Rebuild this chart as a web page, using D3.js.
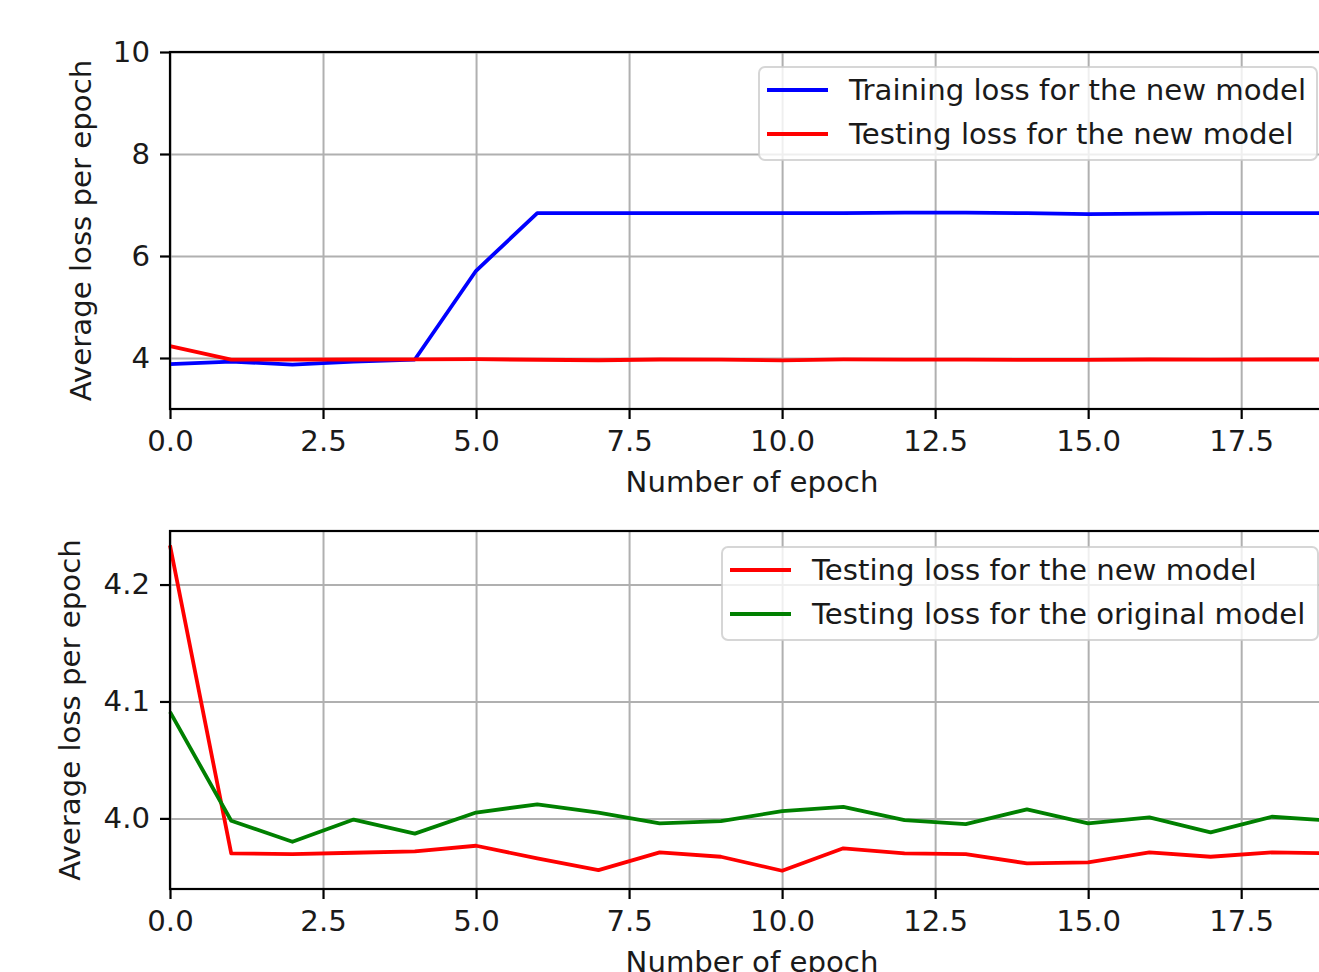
<!DOCTYPE html>
<html>
<head>
<meta charset="utf-8">
<script src="https://cdn.jsdelivr.net/npm/d3@7"></script>
<style>
  body { margin: 0; background: #fff; }
  svg text { font-family: "DejaVu Sans", sans-serif; fill: #1a1a1a; }
  .grid line { stroke: #b0b0b0; stroke-width: 2; }
  .grid path { display: none; }
</style>
</head>
<body>
<div id="chart"></div>
<script>
// epochs on the x axis
const epochs = [0, 1, 2, 3, 4, 5, 6, 7, 8, 9, 10, 11, 12, 13, 14, 15, 16, 17, 18, 19];

// average loss per epoch
const trainNew = [3.88, 3.93, 3.87, 3.93, 3.97, 5.71, 6.84, 6.84, 6.84, 6.84,
                  6.84, 6.84, 6.85, 6.85, 6.84, 6.82, 6.83, 6.84, 6.84, 6.84];
const testNew = [4.2336, 3.970, 3.9695, 3.9706, 3.9718, 3.9766, 3.9658, 3.9558, 3.9709, 3.9672,
                 3.9552, 3.9744, 3.970, 3.9695, 3.9615, 3.9624, 3.9709, 3.9672, 3.9709, 3.970];
const testOrig = [4.0911, 3.998, 3.980, 3.999, 3.987, 4.005, 4.012, 4.005, 3.9957, 3.9977,
                  4.0062, 4.0099, 3.9985, 3.9951, 4.0077, 3.9957, 4.0008, 3.988, 4.0014, 3.998];

const xTicks = [0, 2.5, 5, 7.5, 10, 12.5, 15, 17.5];
const xDomain = [0, 19];
const topYTicks = [4, 6, 8, 10];
const topYDomain = [3, 10];
const botYTicks = [4.0, 4.1, 4.2];
const botYDomain = [3.9396, 4.2458];

const W = 1319, H = 972;
const fontSize = 29.2;

const svg = d3.select('#chart')
  .append('svg')
  .attr('width', W)
  .attr('height', H);

function drawPanel(opts) {
  const left = 170, right = 1333;
  const top = opts.top, bottom = opts.bottom;

  const x = d3.scaleLinear().domain(xDomain).range([left, right]);
  const y = d3.scaleLinear().domain(opts.yDomain).range([bottom, top]);

  const g = svg.append('g');

  // grid
  g.append('g')
    .attr('class', 'grid')
    .attr('transform', 'translate(0,' + bottom + ')')
    .call(d3.axisBottom(x).tickValues(xTicks).tickSize(-(bottom - top)).tickFormat(''));

  g.append('g')
    .attr('class', 'grid')
    .attr('transform', 'translate(' + left + ',0)')
    .call(d3.axisLeft(y).tickValues(opts.yTicks).tickSize(-(right - left)).tickFormat(''));

  // series
  const line = d3.line()
    .x((d, i) => x(epochs[i]))
    .y(d => y(d));

  opts.series.forEach(s => {
    g.append('path')
      .attr('d', line(s.values))
      .attr('fill', 'none')
      .attr('stroke', s.color)
      .attr('stroke-width', 3.8)
      .attr('stroke-linejoin', 'round');
  });

  // spines
  g.append('rect')
    .attr('x', left)
    .attr('y', top)
    .attr('width', right - left)
    .attr('height', bottom - top)
    .attr('fill', 'none')
    .attr('stroke', '#000')
    .attr('stroke-width', 2.2);

  // axes
  const xAxis = g.append('g')
    .attr('transform', 'translate(0,' + bottom + ')')
    .call(d3.axisBottom(x).tickValues(xTicks).tickSize(10).tickPadding(11).tickFormat(d3.format('.1f')));

  const yAxis = g.append('g')
    .attr('transform', 'translate(' + left + ',0)')
    .call(d3.axisLeft(y).tickValues(opts.yTicks).tickSize(10).tickPadding(10).tickFormat(opts.yFormat));

  [xAxis, yAxis].forEach(a => {
    a.select('.domain').remove();
    a.selectAll('line').attr('stroke', '#000').attr('stroke-width', 2.2);
    a.selectAll('text').style('font-size', fontSize + 'px').attr('fill', '#1a1a1a');
  });

  // labels
  g.append('text')
    .attr('x', 752)
    .attr('y', bottom + 83)
    .attr('text-anchor', 'middle')
    .style('font-size', fontSize + 'px')
    .text('Number of epoch');

  g.append('text')
    .attr('transform', 'translate(' + opts.yLabelX + ',' + (top + bottom) / 2 + ') rotate(-90)')
    .attr('text-anchor', 'middle')
    .style('font-size', fontSize + 'px')
    .text('Average loss per epoch');

  // legend
  const lg = g.append('g');
  lg.append('rect')
    .attr('x', opts.legend.x)
    .attr('y', opts.legend.y)
    .attr('width', opts.legend.w)
    .attr('height', 93)
    .attr('rx', 6)
    .attr('fill', '#fff')
    .attr('fill-opacity', 0.8)
    .attr('stroke', '#cccccc')
    .attr('stroke-opacity', 0.8)
    .attr('stroke-width', 2);

  opts.series.forEach((s, i) => {
    const ly = opts.legend.y + 23 + i * 44;
    lg.append('line')
      .attr('x1', opts.legend.x + 8)
      .attr('x2', opts.legend.x + 69)
      .attr('y1', ly)
      .attr('y2', ly)
      .attr('stroke', s.color)
      .attr('stroke-width', 3.8);
    lg.append('text')
      .attr('x', opts.legend.x + 90)
      .attr('y', ly + 10)
      .style('font-size', fontSize + 'px')
      .text(s.label);
  });
}

drawPanel({
  top: 52,
  bottom: 409,
  yDomain: topYDomain,
  yTicks: topYTicks,
  yFormat: d3.format('d'),
  yLabelX: 91,
  legend: { x: 759, y: 67, w: 558 },
  series: [
    { values: trainNew, color: '#0000ff', label: 'Training loss for the new model' },
    { values: testNew, color: '#ff0000', label: 'Testing loss for the new model' }
  ]
});

drawPanel({
  top: 531,
  bottom: 889,
  yDomain: botYDomain,
  yTicks: botYTicks,
  yFormat: d3.format('.1f'),
  yLabelX: 80,
  legend: { x: 722, y: 547, w: 596 },
  series: [
    { values: testNew, color: '#ff0000', label: 'Testing loss for the new model' },
    { values: testOrig, color: '#008000', label: 'Testing loss for the original model' }
  ]
});
</script>
</body>
</html>
